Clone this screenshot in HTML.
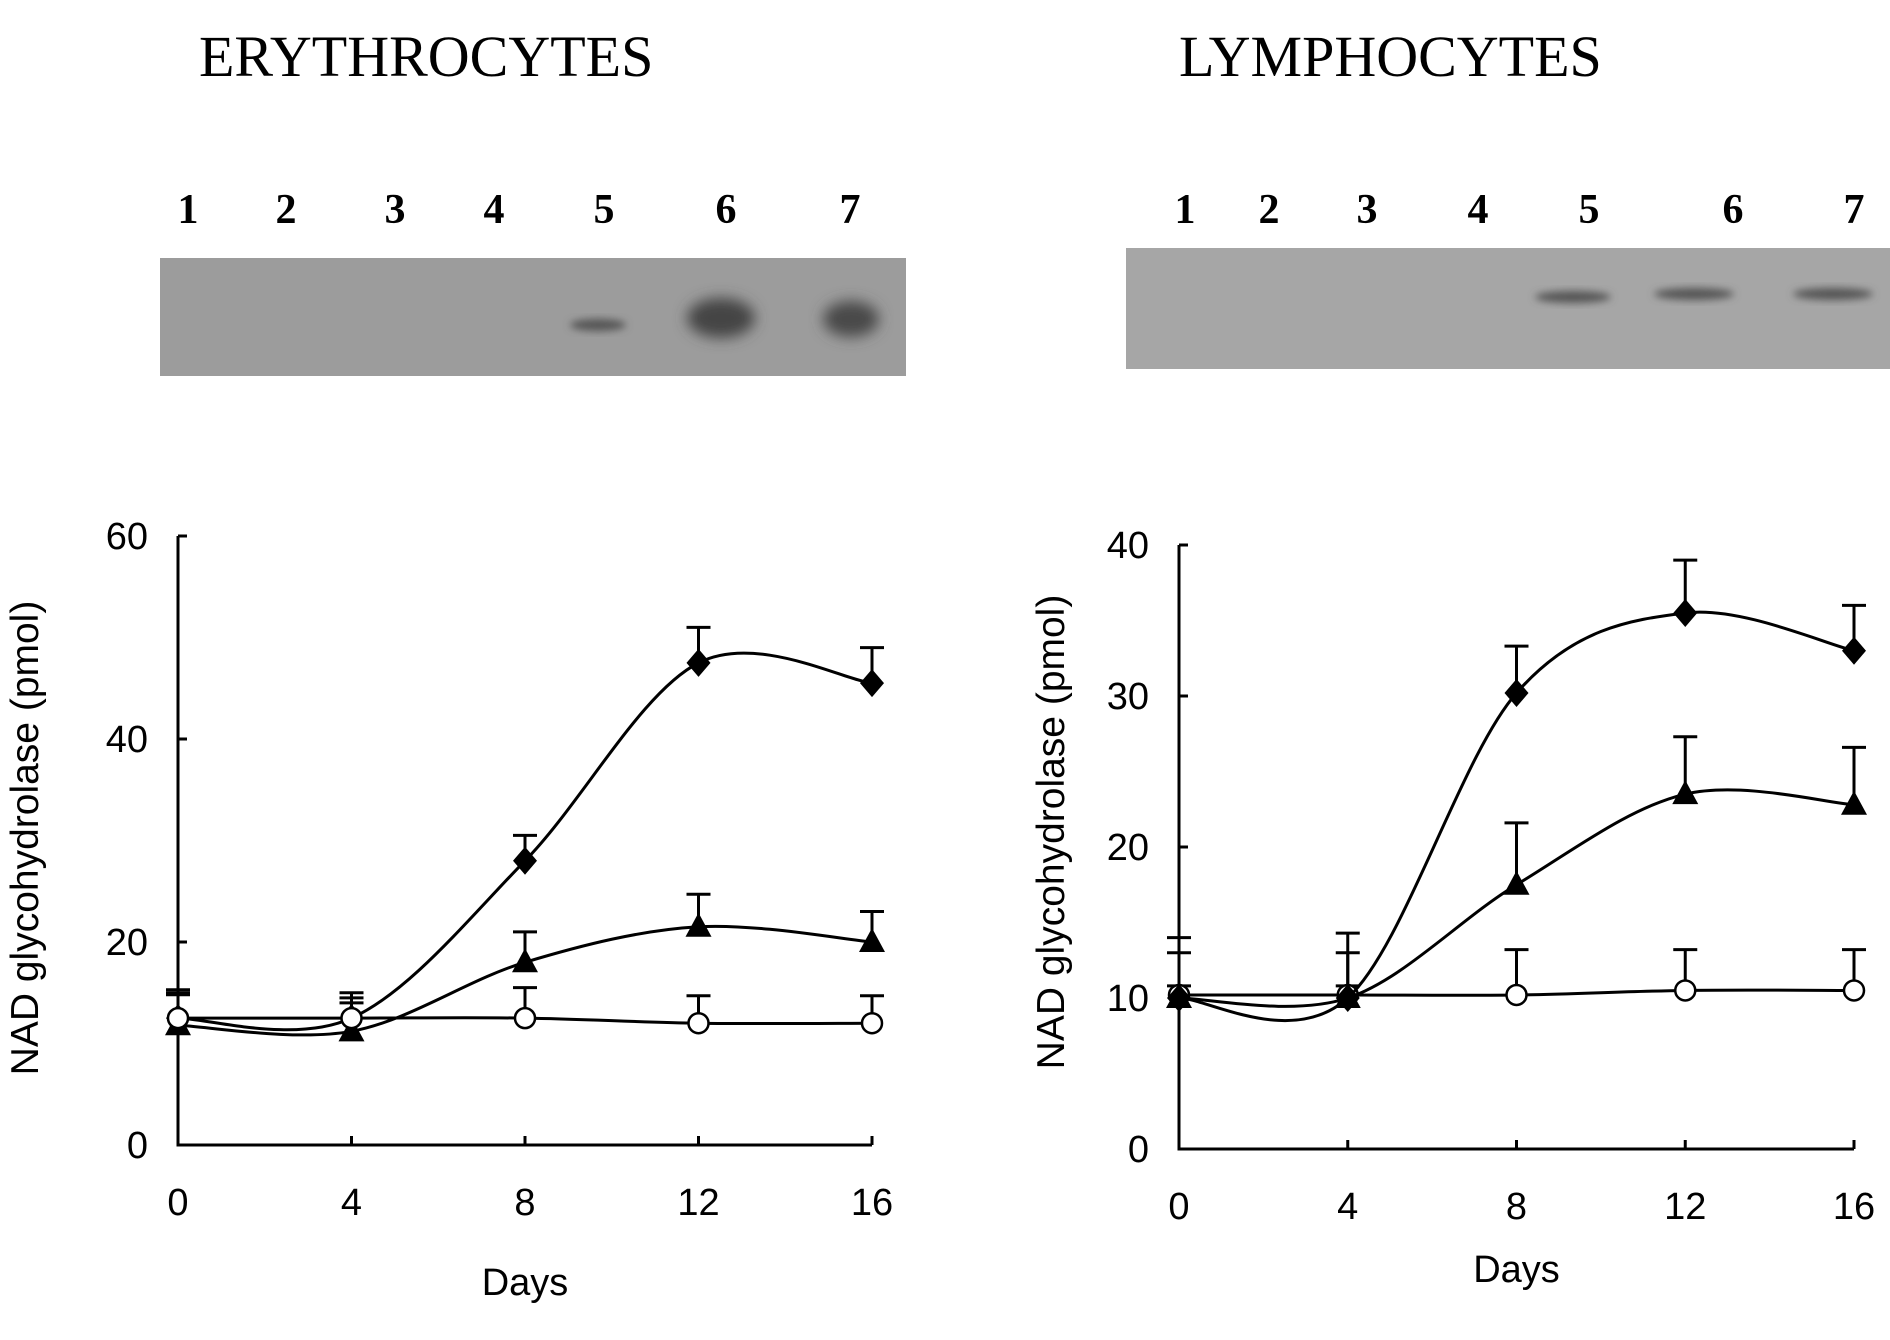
<!DOCTYPE html>
<html><head><meta charset="utf-8"><style>
html,body{margin:0;padding:0;background:#fff;width:1890px;height:1340px;overflow:hidden}
svg{display:block}
.t{font-family:"Liberation Serif",serif;font-size:58px}
.ln{font-family:"Liberation Serif",serif;font-size:42px;font-weight:bold;text-anchor:middle}
.tk{font-family:"Liberation Sans",sans-serif;font-size:38px}
.yt{font-family:"Liberation Sans",sans-serif;font-size:39px}
</style></head><body>
<svg id="fig" width="1890" height="1340" viewBox="0 0 1890 1340">
<defs>
<filter id="blur" x="-50%" y="-50%" width="200%" height="200%"><feGaussianBlur stdDeviation="7"/></filter>
<filter id="blur2" x="-50%" y="-50%" width="200%" height="200%"><feGaussianBlur stdDeviation="4"/></filter>
</defs>
<text class="t" x="199" y="76">ERYTHROCYTES</text>
<text class="t" x="1179" y="76">LYMPHOCYTES</text>
<g>
<rect x="160" y="258" width="746" height="118" fill="#9c9c9c"/>
<ellipse cx="598" cy="325" rx="28" ry="6" fill="#555" filter="url(#blur2)"/>
<ellipse cx="721" cy="318" rx="34" ry="20" fill="#444" filter="url(#blur)"/>
<ellipse cx="851" cy="319" rx="28" ry="18" fill="#4a4a4a" filter="url(#blur)"/>
</g>
<g>
<rect x="1126" y="248" width="764" height="121" fill="#a6a6a6"/>
<ellipse cx="1573" cy="297" rx="38" ry="6" fill="#555" filter="url(#blur2)"/>
<ellipse cx="1694" cy="294" rx="40" ry="6" fill="#555" filter="url(#blur2)"/>
<ellipse cx="1833" cy="294" rx="40" ry="6" fill="#555" filter="url(#blur2)"/>
</g>
<g id="lanes"></g>
<g id="chartL"></g>
<g id="chartR"></g>
</svg>
<script>
const laneLabels=["1","2","3","4","5","6","7"];
const lanesL=[188,286,395,494,604,726,850];
const lanesR=[1185,1269,1367,1478,1589,1733,1854];
const days=[0,4,8,12,16];
const eryDiamond=[12.5,12.5,28,47.5,45.5];
const eryDiamondErr=[2.5,2,2.5,3.5,3.5];
const eryTriangle=[11.8,11.2,18,21.5,20];
const eryTriangleErr=[3,2.8,3,3.2,3];
const eryCircle=[12.5,12.5,12.5,12,12];
const eryCircleErr=[2.8,2.5,3,2.7,2.7];
const lymDiamond=[10,10,30.2,35.5,33];
const lymDiamondErr=[4,3,3.1,3.5,3];
const lymTriangle=[10,10,17.5,23.5,22.8];
const lymTriangleErr=[3,4.3,4.1,3.8,3.8];
const lymCircle=[10.2,10.2,10.2,10.5,10.5];
const lymCircleErr=[0.6,0.6,3,2.7,2.7];
const eryTicks=[0,20,40,60];
const lymTicks=[0,10,20,30,40];
const NS="http://www.w3.org/2000/svg";
function mk(p,tag,attrs){const e=document.createElementNS(NS,tag);for(const k in attrs)e.setAttribute(k,attrs[k]);p.appendChild(e);return e;}
const lg=document.getElementById('lanes');
laneLabels.forEach((l,i)=>{
 const a=mk(lg,'text',{class:'ln',x:lanesL[i],y:223});a.textContent=l;
 
 
 const b=mk(lg,'text',{class:'ln',x:lanesR[i],y:223});b.textContent=l;
 
 
});
function smooth(pts){
 let d=`M${pts[0][0]},${pts[0][1]}`;
 for(let i=0;i<pts.length-1;i++){
  const p0=pts[i-1]||pts[i],p1=pts[i],p2=pts[i+1],p3=pts[i+2]||p2;
  const c1=[p1[0]+(p2[0]-p0[0])/6,p1[1]+(p2[1]-p0[1])/6];
  const c2=[p2[0]-(p3[0]-p1[0])/6,p2[1]-(p3[1]-p1[1])/6];
  d+=` C${c1[0]},${c1[1]} ${c2[0]},${c2[1]} ${p2[0]},${p2[1]}`;
 }
 return d;
}
function chart(g,o){
 const X=v=>o.x0+(o.x1-o.x0)*v/16;
 const Y=v=>o.y0-(o.y0-o.y1)*v/o.ymax;
 const ax=mk(g,'path',{d:`M${o.x0},${Y(o.ymax)} V${o.y0} H${X(16)}`,fill:'none',stroke:'#000','stroke-width':3});
 
 
 o.yt.forEach(v=>{
  mk(g,'line',{x1:o.x0,x2:o.x0+9,y1:Y(v),y2:Y(v),stroke:'#000','stroke-width':3});
  const t=mk(g,'text',{class:'tk',x:o.x0-30,y:Y(v)+13,'text-anchor':'end'});t.textContent=v;
  
  
 });
 days.forEach(d=>{
  mk(g,'line',{x1:X(d),x2:X(d),y1:o.y0,y2:o.y0-9,stroke:'#000','stroke-width':3});
  const t=mk(g,'text',{class:'tk',x:X(d),y:o.y0+70,'text-anchor':'middle'});t.textContent=d;
  
  
 });
 const xt=mk(g,'text',{class:'tk',x:(o.x0+X(16))/2,y:o.dy,'text-anchor':'middle'});xt.textContent='Days';
 
 
 const yt=mk(g,'text',{class:'yt',transform:`translate(${o.ytx},${o.yty}) rotate(-90)`,'text-anchor':'middle'});yt.textContent='NAD glycohydrolase (pmol)';
 
 
 o.series.forEach(s=>{
  const pts=days.map((d,i)=>[X(d),Y(s.v[i])]);
  const ln=mk(g,'path',{d:smooth(pts),fill:'none',stroke:'#000','stroke-width':3});
  
  
  days.forEach((d,i)=>{
   const x=X(d),y=Y(s.v[i]),ye=Y(s.v[i]+s.e[i]);
   const eb=mk(g,'path',{d:`M${x},${y} V${ye} M${x-12},${ye} H${x+12}`,stroke:'#000','stroke-width':3,fill:'none'});
   
   
   let m;
   if(s.shape==='diamond') m=mk(g,'path',{d:`M${x},${y-14} L${x+12},${y} L${x},${y+14} L${x-12},${y} Z`,fill:'#000'});
   else if(s.shape==='triangle') m=mk(g,'path',{d:`M${x},${y-14} L${x+13},${y+10} L${x-13},${y+10} Z`,fill:'#000'});
   else m=mk(g,'circle',{cx:x,cy:y,r:10,fill:'#fff',stroke:'#000','stroke-width':2.5});
   
   
  });
 });
}
chart(document.getElementById('chartL'),{x0:178,x1:872,y0:1145,y1:536,ymax:60,yt:eryTicks,dy:1295,ytx:38,yty:838,
 series:[{name:'triangle',shape:'triangle',v:eryTriangle,e:eryTriangleErr},{name:'diamond',shape:'diamond',v:eryDiamond,e:eryDiamondErr},{name:'circle',shape:'circle',v:eryCircle,e:eryCircleErr}]});
chart(document.getElementById('chartR'),{x0:1179,x1:1854,y0:1149,y1:545,ymax:40,yt:lymTicks,dy:1282,ytx:1064,yty:832,
 series:[{name:'circle',shape:'circle',v:lymCircle,e:lymCircleErr},{name:'triangle',shape:'triangle',v:lymTriangle,e:lymTriangleErr},{name:'diamond',shape:'diamond',v:lymDiamond,e:lymDiamondErr}]});
</script>
</body></html>
